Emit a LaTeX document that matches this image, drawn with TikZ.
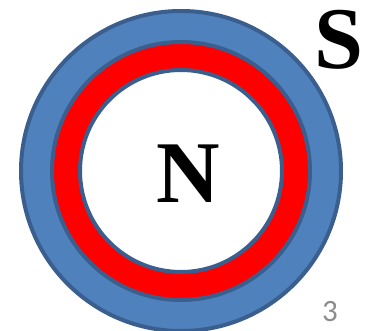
\documentclass[tikz,border=0pt]{standalone}
\usepackage{fontspec}
\setmainfont{Liberation Serif}
\newfontfamily\slidefont{Carlito}
\definecolor{ringblue}{HTML}{4F81BD}
\definecolor{ringedge}{HTML}{3A5F8E}
\definecolor{pagegray}{HTML}{8C8C8C}
\begin{document}
\begin{tikzpicture}[x=1pt, y=-1pt,
    ring/.style={circle, draw=ringedge, line width=4pt, inner sep=0pt}]
    \useasboundingbox (0,0) rectangle (376,331);

    \node[ring, fill=ringblue, minimum size=320pt] (outer) at (181,171) {};
    \node[ring, fill=red, minimum size=258pt] (middle) at (181,171) {};
    \node[ring, fill=white, minimum size=202pt] (inner) at (181,171) {};

    \node[font=\fontsize{88}{88}\selectfont\bfseries] (N) at (188,174) {N};
    \node[font=\fontsize{88}{88}\selectfont\bfseries] (S) at (339,40) {S};
    \node[font=\fontsize{31}{31}\slidefont, text=pagegray] (page) at (330,312) {3};
\end{tikzpicture}
\end{document}
